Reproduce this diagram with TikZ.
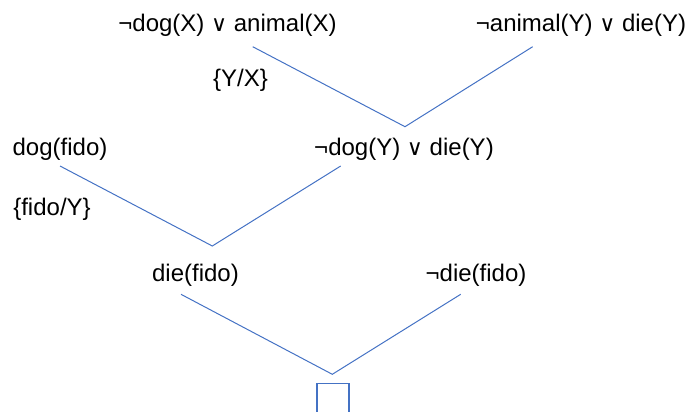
\documentclass[tikz,border=0pt]{standalone}
\usepackage{fontspec}
\setmainfont{Liberation Sans}
\newfontfamily\symfont{DejaVu Sans}
\newcommand{\myor}{{\symfont\fontsize{22pt}{24pt}\selectfont ∨}}
\definecolor{lineblue}{HTML}{4472C4}
\begin{document}
\begin{tikzpicture}[x=1pt,y=-1pt,
  lbl/.style={inner sep=0pt, font=\fontsize{24pt}{28pt}\selectfont},
  link/.style={draw=lineblue, line width=1pt},
  emptybox/.style={draw=lineblue, line width=1.5pt, inner sep=0pt,
    minimum width=32pt, minimum height=40pt, anchor=north}]
\useasboundingbox (0,0) rectangle (691,412);
\clip (0,0) rectangle (691,412);
% clauses
\node[lbl] (n1) at (227.5,25) {¬dog(X) \myor{} animal(X)};
\node[lbl] (n2) at (581,25) {¬animal(Y) \myor{} die(Y)};
\node[lbl] (s1) at (240.5,80) {\{Y/X\}};
\node[lbl] (n3) at (60,149) {dog(fido)};
\node[lbl] (n4) at (404,149) {¬dog(Y) \myor{} die(Y)};
\node[lbl] (s2) at (52,209) {\{fido/Y\}};
\node[lbl] (n5) at (195.5,275) {die(fido)};
\node[lbl] (n6) at (476,275) {¬die(fido)};
\node[emptybox] (box) at (332.8,382.5) {};
% connector ends
\coordinate (a1) at (252.7,46.7);
\coordinate (v1) at (405,126.7);
\coordinate (b1) at (532.7,46.7);
\coordinate (a2) at (60,166);
\coordinate (v2) at (212.3,246);
\coordinate (b2) at (340.7,166);
\coordinate (a3) at (181,294.3);
\coordinate (v3) at (332.3,374.3);
\coordinate (b3) at (460.7,294.3);
\draw[link] (a1) -- (v1) -- (b1);
\draw[link] (a2) -- (v2) -- (b2);
\draw[link] (a3) -- (v3) -- (b3);
\end{tikzpicture}
\end{document}
